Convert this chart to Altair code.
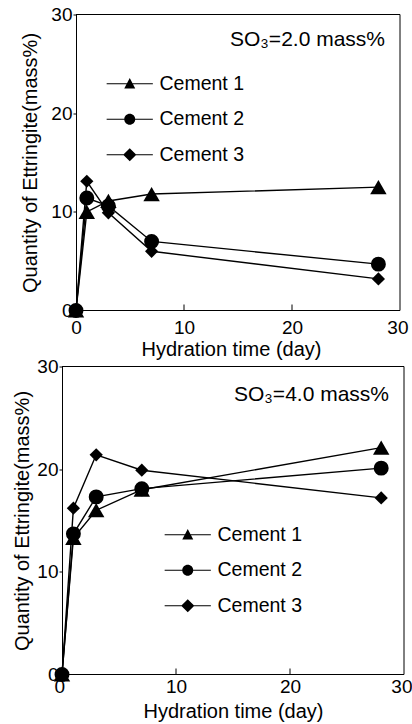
import altair as alt
import pandas as pd

# ---------------- data ----------------
days = [0, 1, 3, 7, 28]
cements = ["Cement 1", "Cement 2", "Cement 3"]

so3_20_c1 = [0, 10.0, 11.1, 11.8, 12.5]
so3_20_c2 = [0, 11.4, 10.6, 7.0, 4.7]
so3_20_c3 = [0, 13.1, 9.9, 6.0, 3.2]

so3_40_c1 = [0, 13.3, 16.0, 18.0, 22.1]
so3_40_c2 = [0, 13.7, 17.3, 18.1, 20.1]
so3_40_c3 = [0, 16.2, 21.4, 19.9, 17.2]

x_ticks = [0, 10, 20, 30]
y_ticks = [0, 10, 20, 30]
inner_ticks = [10, 20]
x_max = 30
y_max = 30
panel_labels = ["SO\u2083=2.0 mass%", "SO\u2083=4.0 mass%"]
x_title = "Hydration time (day)"
y_title = "Quantity of Ettringite(mass%)"

FONT = "Liberation Sans"
shapes = ["triangle-up", "circle", "diamond"]
sizes = [270, 175, 240]
bar = "M-4.2,-0.1L4.2,-0.1L4.2,0.1L-4.2,0.1Z"
legend_paths = [
    bar + "M0,-1.05L1,0.85L-1,0.85Z",
    bar + "M1,0A1,1,0,1,1,-1,0A1,1,0,1,1,1,0Z",
    bar + "M0,-1.2L1.2,0L0,1.2L-1.2,0Z",
]


def make_df(series):
    rows = []
    for name, vals in zip(cements, series):
        for d, v in zip(days, vals):
            rows.append({"day": d, "val": v, "cement": name})
    return pd.DataFrame(rows)


def panel(series, label, w, h, x_min, y_off, leg_x, leg_y, ann_x, ann_y,
          y_tpad, x_lpad, x_tpad):
    df = make_df(series)
    xs = alt.Scale(domain=[x_min, x_max], nice=False, zero=False)
    ys = alt.Scale(domain=[0, y_max], nice=False, zero=False)
    x = alt.X("day:Q", scale=xs,
              axis=alt.Axis(values=x_ticks, title=x_title, tickSize=0, ticks=False,
                            domain=False, labelPadding=x_lpad, titlePadding=x_tpad,
                            format="d", labelFlush=True, labelFlushOffset=8))
    y = alt.Y("val:Q", scale=ys,
              axis=alt.Axis(values=y_ticks, title=y_title, tickSize=3, labelPadding=1,
                            titlePadding=y_tpad, format="d", offset=y_off))
    base = alt.Chart(df)
    lines = base.mark_line(color="black", strokeWidth=1.4).encode(
        x=x, y=y, detail="cement:N")
    pts = base.mark_point(filled=True, color="black", opacity=1).encode(
        x=x, y=y,
        shape=alt.Shape("cement:N", scale=alt.Scale(domain=cements, range=shapes), legend=None),
        size=alt.Size("cement:O", scale=alt.Scale(domain=cements, range=sizes), legend=None),
    )
    leg = base.mark_point(filled=True, color="black", opacity=0).encode(
        x=x, y=y,
        shape=alt.Shape(
            "cement:N",
            scale=alt.Scale(domain=cements, range=legend_paths),
            legend=alt.Legend(title=None, orient="none", legendX=leg_x, legendY=leg_y,
                              symbolSize=121, symbolOpacity=1, symbolFillColor="black",
                              symbolStrokeWidth=0, labelFont=FONT, labelFontSize=19.5,
                              labelColor="black", labelOffset=20, rowPadding=14.5,
                              padding=0, labelLimit=0),
        ),
    )
    # plot frame (top, right, bottom) along the data domain
    frame = pd.DataFrame({
        "day": [0, x_max, 0], "day2": [x_max, x_max, x_max],
        "val": [y_max, 0, 0], "val2": [y_max, y_max, 0],
    })
    box = alt.Chart(frame).mark_rule(color="black", strokeWidth=1).encode(
        x=x, x2="day2:Q", y=y, y2="val2:Q")
    ticks = alt.Chart(pd.DataFrame({"day": inner_ticks})).mark_rule(
        color="black", strokeWidth=1).encode(
        x=x, y=alt.value(h), y2=alt.value(h - 6))
    ann = alt.Chart(pd.DataFrame({"label": [label]})).mark_text(
        align="right", baseline="middle", font=FONT, fontSize=21, color="black").encode(
        text="label:N", x=alt.value(ann_x), y=alt.value(ann_y))
    return alt.layer(lines, pts, leg, box, ticks, ann).resolve_scale(
        shape="independent").properties(width=w, height=h)


# top panel: plot origin shared with the bottom one, data area shifted 14 px right
top = panel([so3_20_c1, so3_20_c2, so3_20_c3], panel_labels[0], 338, 296,
            x_min=-14 / 10.8, y_off=-14, leg_x=58, leg_y=59.5, ann_x=323, ann_y=25.5,
            y_tpad=10, x_lpad=8, x_tpad=2)
bottom = panel([so3_40_c1, so3_40_c2, so3_40_c3], panel_labels[1], 342, 308,
               x_min=0, y_off=0, leg_x=116, leg_y=158.5, ann_x=327, ann_y=28,
               y_tpad=4, x_lpad=3, x_tpad=4.5)

chart = alt.vconcat(top, bottom, spacing=-2).configure_view(
    stroke=None
).configure_axis(
    domainColor="black", tickColor="black", labelColor="black", titleColor="black",
    labelFont=FONT, titleFont=FONT, labelFontSize=19, titleFontSize=20,
    titleFontWeight="normal", grid=False, domainWidth=1,
).properties(padding={"left": 12, "top": 5.5, "right": 0, "bottom": 0})

chart.save("out.html", embed_options={"renderer": "svg", "actions": False})
